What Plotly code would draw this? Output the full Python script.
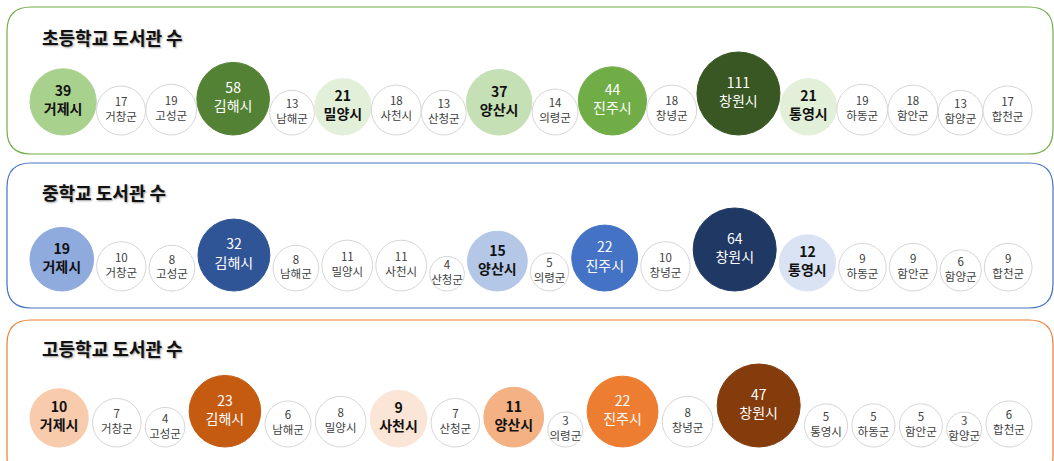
import math
import plotly.graph_objects as go

# ---------------- data ----------------
regions = ["거제시", "거창군", "고성군", "김해시", "남해군", "밀양시", "사천시", "산청군", "양산시",
           "의령군", "진주시", "창녕군", "창원시", "통영시", "하동군", "함안군", "함양군", "합천군"]
panel_titles = ["초등학교 도서관 수", "중학교 도서관 수", "고등학교 도서관 수"]
elementary = [39, 17, 19, 58, 13, 21, 18, 13, 37, 14, 44, 18, 111, 21, 19, 18, 13, 17]
middle = [19, 10, 8, 32, 8, 11, 11, 4, 15, 5, 22, 10, 64, 12, 9, 9, 6, 9]
high = [10, 7, 4, 23, 6, 8, 9, 7, 11, 3, 22, 8, 47, 5, 5, 5, 3, 6]
series = [elementary, middle, high]

# ---------------- styles ----------------
border_colors = ["#70ad47", "#4472c4", "#ed7d31"]
# highlighted circles per panel: region -> (fill, text colour)
highlights = [
    {"거제시": ("#a9d18e", "#111111"), "김해시": ("#548235", "#ffffff"), "밀양시": ("#e2f0d9", "#111111"),
     "양산시": ("#c5e0b4", "#111111"), "진주시": ("#70ad47", "#ffffff"), "창원시": ("#385723", "#ffffff"),
     "통영시": ("#e2f0d9", "#111111")},
    {"거제시": ("#8faadc", "#111111"), "김해시": ("#2f5597", "#ffffff"), "양산시": ("#b4c7e7", "#111111"),
     "진주시": ("#4472c4", "#ffffff"), "창원시": ("#203864", "#ffffff"), "통영시": ("#dae3f3", "#111111")},
    {"거제시": ("#f8cbad", "#111111"), "김해시": ("#c55a11", "#ffffff"), "사천시": ("#fbe5d6", "#111111"),
     "양산시": ("#f4b183", "#111111"), "진주시": ("#ed7d31", "#ffffff"), "창원시": ("#843c0c", "#ffffff")},
]
panel_boxes = [(7, 1053, 7, 154), (7, 1053, 163, 308), (7, 1053, 320, 480)]
baselines = [135, 291, 447]
title_y = [37, 192, 348]
row_x0, row_x1 = 30, 1032
FONT = "Noto Sans CJK KR"
W, H = 1054, 461


def diameter(v, vmax, hl):
    d = 79 + 16 * math.log(v / vmax)
    d = max(d, 33)
    if hl:
        d += 4
    return d


def rounded_rect(x0, x1, y0, y1, r):
    return (f"M {x0+r},{y0} L {x1-r},{y0} Q {x1},{y0} {x1},{y0+r} "
            f"L {x1},{y1-r} Q {x1},{y1} {x1-r},{y1} L {x0+r},{y1} "
            f"Q {x0},{y1} {x0},{y1-r} L {x0},{y0+r} Q {x0},{y0} {x0+r},{y0} Z")


fig = go.Figure()
shapes = []
annotations = []

for p, vals in enumerate(series):
    vmax = max(vals)
    hl = highlights[p]
    ds = [diameter(v, vmax, r in hl) for v, r in zip(vals, regions)]
    gap = (row_x1 - row_x0 - sum(ds)) / (len(ds) - 1)
    xs, ys = [], []
    cur = row_x0
    for d in ds:
        xs.append(cur + d / 2)
        ys.append(baselines[p] - d / 2)
        cur += d + gap

    fills, lines, texts, tcolors, tsizes = [], [], [], [], []
    for v, r in zip(vals, regions):
        if r in hl:
            fill, tc = hl[r]
            fills.append(fill)
            lines.append(fill)
            tcolors.append(tc)
            if tc == "#ffffff":
                texts.append(f"{v}<br>{r}")
            else:
                texts.append(f"<b>{v}<br>{r}</b>")
            tsizes.append(14)
        else:
            fills.append("#ffffff")
            lines.append("#d6d6d6")
            tcolors.append("#404040")
            texts.append(f"{v}<br>{r}")
            tsizes.append(11.5)

    fig.add_trace(go.Scatter(
        x=xs, y=ys, mode="markers+text",
        marker=dict(size=ds, color=fills, line=dict(color=lines, width=1), opacity=1),
        text=texts, textposition="middle center",
        textfont=dict(family=FONT, color=tcolors, size=tsizes),
        hoverinfo="skip", showlegend=False, cliponaxis=False,
    ))

    x0, x1, y0, y1 = panel_boxes[p]
    shapes.append(dict(type="path", path=rounded_rect(x0, x1, y0, y1, 24), xref="x", yref="y",
                       line=dict(color=border_colors[p], width=1.2), fillcolor="rgba(0,0,0,0)",
                       layer="below"))
    annotations.append(dict(x=40, y=title_y[p], xref="x", yref="y", text=f"<b>{panel_titles[p]}</b>",
                            showarrow=False, xanchor="left", yanchor="middle",
                            font=dict(family=FONT, size=18, color="#111111",
                                      shadow="1px 1px 2px rgba(0,0,0,0.4)")))

fig.update_layout(
    width=W, height=H, autosize=False,
    margin=dict(l=0, r=0, t=0, b=0),
    paper_bgcolor="#ffffff", plot_bgcolor="#ffffff",
    xaxis=dict(range=[0, W], visible=False, fixedrange=True),
    yaxis=dict(range=[H, 0], visible=False, fixedrange=True),
    shapes=shapes, annotations=annotations,
    font=dict(family=FONT),
)

fig.write_html("out.html", config={"displayModeBar": False},
               post_script="document.body.style.margin='0';")
